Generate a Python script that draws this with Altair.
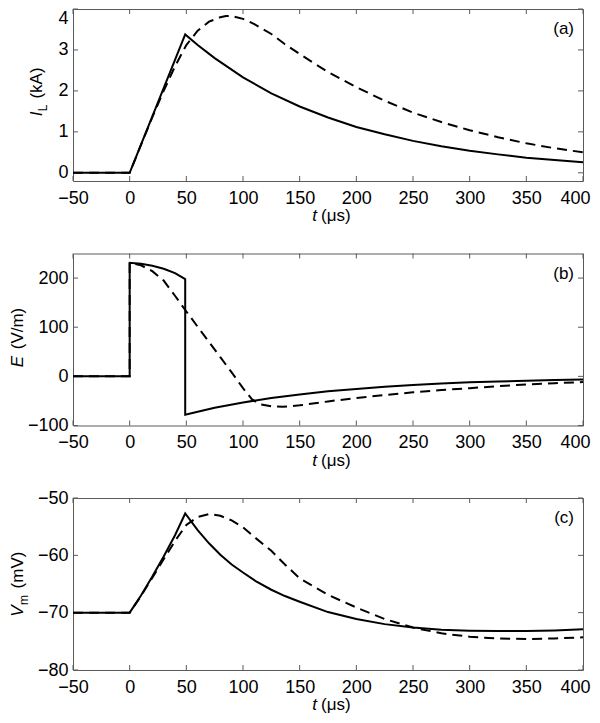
import altair as alt
import pandas as pd

# ---------------- data ----------------
X_TICKS = [-50, 0, 50, 100, 150, 200, 250, 300, 350, 400]

# (a) lightning current I_L (kA)
t_a_solid = [-50, 0, 10, 20, 30, 40, 49, 60, 75, 100, 125, 150, 175, 200, 225, 250, 275, 300, 325, 350, 375, 400]
i_a_solid = [0, 0, 0.69, 1.38, 2.07, 2.76, 3.38, 3.12, 2.80, 2.33, 1.94, 1.62, 1.35, 1.12, 0.94, 0.78, 0.65, 0.54, 0.45, 0.37, 0.31, 0.26]
t_a_dash = [-50, 0, 10, 20, 30, 40, 50, 60, 70, 80, 85, 90, 100, 110, 125, 137, 150, 175, 200, 225, 250, 275, 300, 325, 350, 375, 400]
i_a_dash = [0, 0, 0.68, 1.36, 2.0, 2.6, 3.12, 3.47, 3.69, 3.80, 3.83, 3.83, 3.76, 3.63, 3.39, 3.14, 2.90, 2.46, 2.09, 1.76, 1.47, 1.24, 1.04, 0.87, 0.72, 0.60, 0.50]
ya_domain = [-0.2, 4]
ya_ticks = [0, 1, 2, 3, 4]

# (b) electric field E (V/m)
t_b_solid = [-50, 0, 0, 10, 20, 30, 40, 49, 49, 60, 75, 100, 125, 150, 175, 200, 225, 250, 275, 300, 325, 350, 375, 400]
e_b_solid = [0, 0, 231, 229, 225, 219, 210, 198, -78, -72, -64, -53, -44, -37, -30.5, -25.5, -21, -17.5, -14.5, -12, -10.5, -9, -7.5, -6.5]
t_b_dash = [-50, 0, 0, 10, 20, 30, 40, 50, 60, 70, 80, 90, 100, 108, 115, 125, 135, 150, 175, 200, 225, 250, 275, 300, 325, 350, 375, 400]
e_b_dash = [0, 0, 231, 226, 214, 195, 164, 132, 101, 70, 39, 8, -24, -47, -57, -61, -62, -59, -51, -44, -38, -32.5, -28, -24, -20, -16.5, -14, -11.5]
yb_domain = [-100, 250]
yb_ticks = [-100, 0, 100, 200]

# (c) membrane potential V_m (mV)
t_c_solid = [-50, 0, 10, 20, 30, 40, 49, 60, 70, 80, 90, 100, 112, 125, 137, 150, 175, 200, 225, 250, 275, 300, 325, 350, 375, 400]
v_c_solid = [-70, -70, -67.0, -63.7, -60.2, -56.5, -52.7, -55.6, -57.9, -59.9, -61.6, -63.0, -64.6, -66.0, -67.1, -68.1, -69.9, -71.1, -72.0, -72.6, -73.0, -73.15, -73.2, -73.2, -73.1, -72.9]
t_c_dash = [-50, 0, 10, 20, 30, 40, 50, 60, 70, 80, 90, 100, 110, 125, 137, 150, 175, 200, 225, 250, 275, 300, 325, 350, 375, 400]
v_c_dash = [-70, -70, -67.1, -63.9, -60.7, -57.5, -54.7, -53.3, -52.8, -53.1, -53.9, -55.1, -56.8, -59.2, -61.6, -64.0, -66.9, -69.1, -71.1, -72.6, -73.6, -74.2, -74.5, -74.6, -74.5, -74.3]
yc_domain = [-80, -50]
yc_ticks = [-80, -70, -60, -50]

# ---------------- style ----------------
FONT = "Liberation Sans"
FS = 18
TFS = 17
W, H = 510, 172
SPACING = 72.5
GRAY = "#5a5a5a"
TICK_LEN = 5


def series_df(t, v):
    return pd.DataFrame({"t": t, "v": v, "i": list(range(len(t)))})


def text_layer(txt, x, y, size=TFS, italic=False, angle=0, align="center"):
    kw = dict(text=txt, font=FONT, fontSize=size, color="black", align=align, baseline="middle")
    if angle:
        kw["angle"] = angle
    if italic:
        kw["fontStyle"] = "italic"
    return alt.Chart(pd.DataFrame({"k": [0]})).mark_text(**kw).encode(x=alt.value(x), y=alt.value(y))


def panel(ts, vs, td, vd, ydom, yticks, tag, ytitle, flush=False):
    last = X_TICKS[-1]
    X = alt.X("t:Q", scale=alt.Scale(domain=[-50, 400], nice=False, zero=False),
              axis=alt.Axis(
                  values=X_TICKS, title=None, labelPadding=8,
                  labelAlign={"condition": {"test": f"datum.value === {last}", "value": "right"},
                              "value": "center"},
                  labelOffset={"condition": {"test": f"datum.value === {last}", "value": 7},
                               "value": 0},
              ))
    yax = dict(values=yticks, title=None, labelPadding=5)
    if flush:
        yax["labelFlush"] = 2
    Y = alt.Y("v:Q", scale=alt.Scale(domain=ydom, nice=False, zero=False), axis=alt.Axis(**yax))

    solid = alt.Chart(series_df(ts, vs)).mark_line(color="black", strokeWidth=2).encode(
        x=X, y=Y, order="i:Q")
    dashed = alt.Chart(series_df(td, vd)).mark_line(
        color="black", strokeWidth=2, strokeDash=[10, 6]).encode(x=X, y=Y, order="i:Q")

    n = len(X_TICKS)
    m = len(yticks)
    bot_df = pd.DataFrame({"t": X_TICKS, "v": [ydom[0]] * n})
    top_df = pd.DataFrame({"t": X_TICKS, "v": [ydom[1]] * n})
    lef_df = pd.DataFrame({"t": [-50] * m, "v": list(yticks)})
    rig_df = pd.DataFrame({"t": [400] * m, "v": list(yticks)})
    rk = dict(color=GRAY, strokeWidth=1)
    t_bot = alt.Chart(bot_df).mark_rule(**rk).encode(x=X, y=Y, y2=alt.value(H - TICK_LEN))
    t_top = alt.Chart(top_df).mark_rule(**rk).encode(x=X, y=Y, y2=alt.value(TICK_LEN))
    t_lef = alt.Chart(lef_df).mark_rule(**rk).encode(x=X, x2=alt.value(TICK_LEN), y=Y)
    t_rig = alt.Chart(rig_df).mark_rule(**rk).encode(x=X, x2=alt.value(W - TICK_LEN), y=Y)

    layers = [t_bot, t_top, t_lef, t_rig, dashed, solid]
    layers.append(text_layer(tag, W - 9, 20, align="right"))
    layers.append(text_layer("t", 244, H + 35, italic=True, align="right"))
    layers.append(text_layer("(\u03bcs)", 248, H + 35, align="left"))
    for (txt, x, y, size, italic) in ytitle:
        layers.append(text_layer(txt, x, y, size=size, italic=italic, angle=270))
    return alt.layer(*layers).properties(width=W, height=H)


pa = panel(t_a_solid, i_a_solid, t_a_dash, i_a_dash, ya_domain, ya_ticks, "(a)",
           [("(kA)", -36, 74, TFS, False), ("L", -30, 99, 12, False), ("I", -36, 105, TFS, True)],
           flush=True)
pb = panel(t_b_solid, e_b_solid, t_b_dash, e_b_dash, yb_domain, yb_ticks, "(b)",
           [("(V/m)", -55, 75, TFS, False), ("E", -55, 108, TFS, True)])
pc = panel(t_c_solid, v_c_solid, t_c_dash, v_c_dash, yc_domain, yc_ticks, "(c)",
           [("(mV)", -55, 72, TFS, False), ("m", -49, 102, 12, False), ("V", -55, 113, TFS, True)])

chart = alt.vconcat(pa, pb, pc, spacing=SPACING, bounds="flush").properties(
    padding=0
).configure_view(
    stroke=GRAY, strokeWidth=1
).configure_axis(
    labelFont=FONT, labelFontSize=FS, labelColor="black", ticks=False, tickSize=0,
    domain=False, grid=False, labelFlush=False
)

chart.save("out.html", embed_options={"renderer": "svg", "actions": False})
